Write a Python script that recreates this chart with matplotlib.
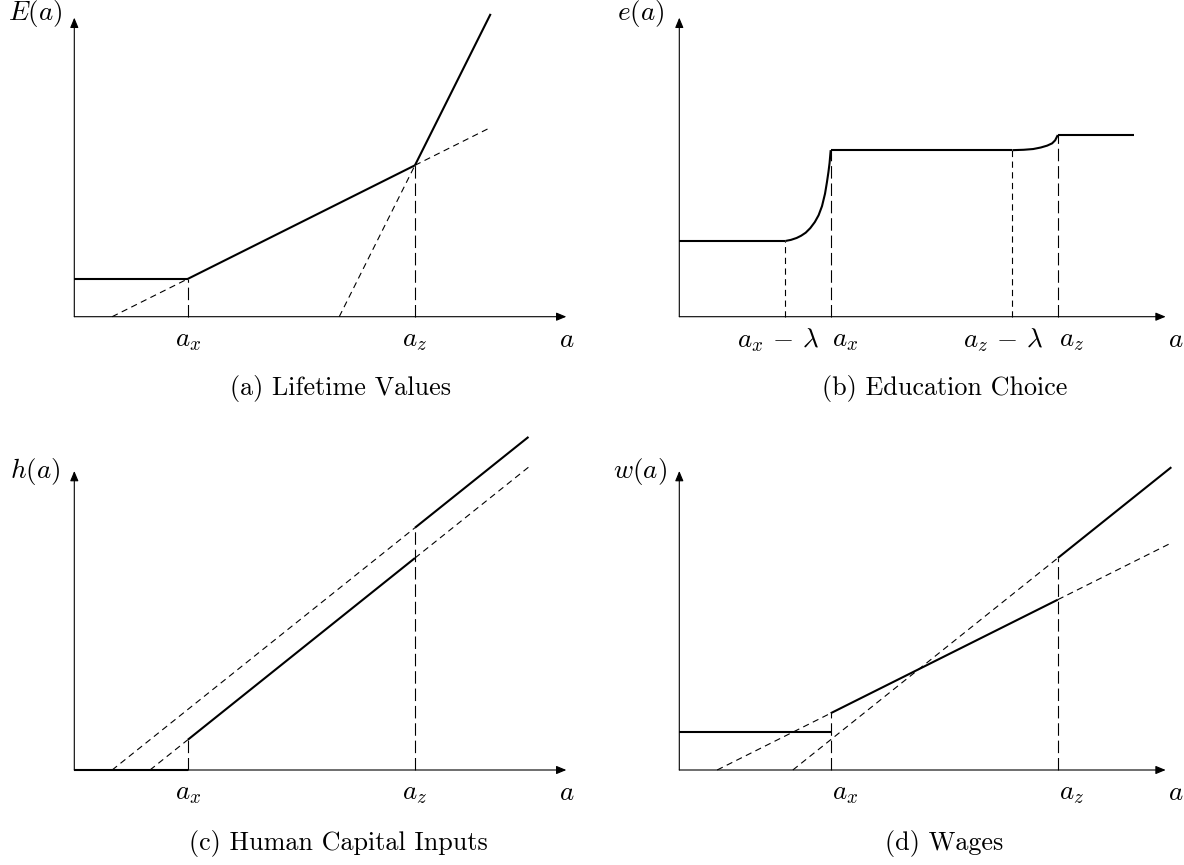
import matplotlib
matplotlib.use("Agg")
import matplotlib.pyplot as plt

plt.rcParams['mathtext.fontset'] = 'cm'
plt.rcParams['axes.formatter.use_mathtext'] = True
plt.rcParams['lines.scale_dashes'] = False

# thresholds on the ability axis
ax_lo, az_lo = 3, 9          # panels (a) and (c)
ax_hi, az_hi = 4, 10         # panels (b) and (d)
lam = 1.2

# (a) lifetime values
E_flat_x, E_flat_y = [0, 3], [1, 1]
E_mid_x, E_mid_y = [3, 9], [1, 4]
E_top_x, E_top_y = [9, 11], [4, 8]
E_mid_ext = ([1, 3], [0, 1]), ([9, 11], [4, 5])
E_top_ext = ([7, 9], [0, 4])

# (b) education choice
e_low, e_mid, e_high = 2.0, 4.4, 4.8
e_end = 12
rise1_x = [2.8, 2.95, 3.1, 3.22, 3.34, 3.46, 3.58, 3.68, 3.77, 3.85, 3.90, 3.94, 3.97, 4.0]
rise1_y = [2.0, 2.03, 2.08, 2.14, 2.22, 2.34, 2.50, 2.68, 2.92, 3.25, 3.55, 3.82, 4.06, 4.4]
rise2_x = [8.8, 9.1, 9.35, 9.55, 9.72, 9.85, 9.93, 10.0]
rise2_y = [4.4, 4.41, 4.43, 4.47, 4.52, 4.58, 4.66, 4.8]

# (c) human capital inputs
h_zero_x, h_zero_y = [0, 3], [0, 0]
h_mid_x, h_mid_y = [3, 9], [0.8, 5.6]
h_top_x, h_top_y = [9, 12], [6.4, 8.8]
h_top_ext = ([1, 9], [0, 6.4])
h_mid_ext = ([2, 3], [0, 0.8]), ([9, 12], [5.6, 8.0])

# (d) wages
w_flat_x, w_flat_y = [0, 4], [1, 1]
w_mid_x, w_mid_y = [4, 10], [1.5, 4.5]
w_top_x, w_top_y = [10, 13], [5.6, 8.0]
w_mid_ext = ([1, 4], [0, 1.5]), ([10, 13], [4.5, 6.0])
w_top_ext = ([3, 10], [0, 5.6])

W, H = 1184, 865
unit = 37.85
FS = 19.5     # math labels
CAP_FS = 18.8
solid = dict(color='k', lw=1.5, clip_on=False, solid_capstyle='butt', solid_joinstyle='round')
short = dict(color='k', lw=0.8, clip_on=False, dashes=(4.5, 3.2))
long_ = dict(color='k', lw=0.8, clip_on=False, dashes=(9, 3.5))

fig = plt.figure(figsize=(W / 100, H / 100), dpi=100)


def make_panel(x0, y0, xmax, ylabel, ylab_y, caption, cap_x, cap_y):
    ax = fig.add_axes([x0 / W, (H - y0) / H, 13 * unit / W, 8 * unit / H])
    ax.set_xlim(0, 13)
    ax.set_ylim(0, 8)
    ax.axis('off')
    arrow = dict(arrowstyle='-|>,head_length=0.6,head_width=0.25', color='k',
                 lw=0.8, shrinkA=0, shrinkB=0)
    ax.annotate('', xy=(xmax, 0), xytext=(0, 0), arrowprops=arrow, annotation_clip=False)
    ax.annotate('', xy=(0, 7.9), xytext=(0, 0), arrowprops=arrow, annotation_clip=False)
    ax.text(-1.03, ylab_y, ylabel, fontsize=FS, ha='center', va='center')
    ax.text(cap_x, cap_y, caption, fontsize=CAP_FS, family='cmr10', ha='center', va='center')
    return ax


def ticklabels(ax, xs, labels, ha='center'):
    for x, s in zip(xs, labels):
        ax.text(x, -0.62, s, fontsize=FS, ha=ha, va='center')


# (a)
ax = make_panel(74.3, 316.7, 13, r'$E(a)$', 8.0, '(a) Lifetime Values', 7.03, -1.9)
ax.plot(E_flat_x, E_flat_y, **solid)
ax.plot(E_mid_x, E_mid_y, **solid)
ax.plot(E_top_x, E_top_y, **solid)
for xs, ys in E_mid_ext:
    ax.plot(xs, ys, **short)
ax.plot(*E_top_ext, **short)
ax.plot([ax_lo, ax_lo], [0, E_flat_y[0]], **long_)
ax.plot([az_lo, az_lo], [0, E_mid_y[1]], **long_)
ticklabels(ax, [ax_lo, az_lo, 13.0], [r'$a_x$', r'$a_z$', r'$a$'])

# (b)
ax = make_panel(679.3, 316.7, 12.85, r'$e(a)$', 8.0, '(b) Education Choice', 7.0, -1.9)
ax.plot([0, ax_hi - lam], [e_low, e_low], **solid)
ax.plot(rise1_x, rise1_y, **solid)
ax.plot([ax_hi, az_hi - lam], [e_mid, e_mid], **solid)
ax.plot(rise2_x, rise2_y, **solid)
ax.plot([az_hi, e_end], [e_high, e_high], **solid)
ax.plot([ax_hi - lam] * 2, [0, e_low], **short)
ax.plot([ax_hi] * 2, [0, e_mid], **long_)
ax.plot([az_hi - lam] * 2, [0, e_mid], **short)
ax.plot([az_hi] * 2, [0, e_high], **long_)
ticklabels(ax, [ax_hi - lam - 0.2, az_hi - lam - 0.25, 13.12],
           [r'$a_x\,-\,\lambda$', r'$a_z\,-\,\lambda$', r'$a$'])
ticklabels(ax, [ax_hi + 0.03, az_hi + 0.04], [r'$a_x$', r'$a_z$'], ha='left')

# (c)
ax = make_panel(74.3, 770, 13, r'$h(a)$', 7.88, '(c) Human Capital Inputs', 6.98, -1.93)
ax.plot(h_zero_x, h_zero_y, **solid)
ax.plot(h_mid_x, h_mid_y, **solid)
ax.plot(h_top_x, h_top_y, **solid)
ax.plot(*h_top_ext, **short)
for xs, ys in h_mid_ext:
    ax.plot(xs, ys, **short)
ax.plot([ax_lo] * 2, [0, h_mid_y[0]], **long_)
ax.plot([az_lo] * 2, [0, h_top_y[0]], **long_)
ticklabels(ax, [ax_lo, az_lo, 13.0], [r'$a_x$', r'$a_z$', r'$a$'])

# (d)
ax = make_panel(679.3, 770, 12.85, r'$w(a)$', 7.88, '(d) Wages', 7.0, -1.93)
ax.plot(w_flat_x, w_flat_y, **solid)
ax.plot(w_mid_x, w_mid_y, **solid)
ax.plot(w_top_x, w_top_y, **solid)
for xs, ys in w_mid_ext:
    ax.plot(xs, ys, **short)
ax.plot(*w_top_ext, **short)
ax.plot([ax_hi] * 2, [0, w_mid_y[0]], **long_)
ax.plot([az_hi] * 2, [0, w_top_y[0]], **long_)
ticklabels(ax, [13.12], [r'$a$'])
ticklabels(ax, [ax_hi + 0.03, az_hi + 0.04], [r'$a_x$', r'$a_z$'], ha='left')

fig.savefig('out.png', dpi=100)
